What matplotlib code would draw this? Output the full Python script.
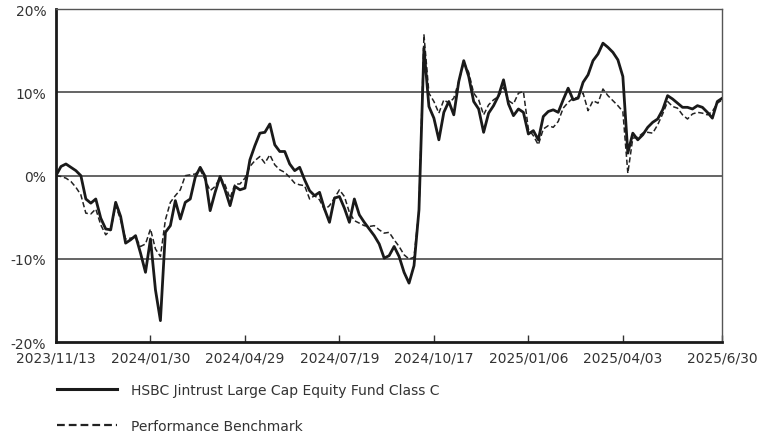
import matplotlib
matplotlib.use("Agg")
import matplotlib.pyplot as plt
import numpy as np

tick_labels = ["2023/11/13", "2024/01/30", "2024/04/29", "2024/07/19",
               "2024/10/17", "2025/01/06", "2025/04/03", "2025/6/30"]
tick_index = [0, 19, 38, 57, 76, 95, 114, 134]

fund = [
    0.0, 1.1, 1.4, 1.0, 0.6, 0.0, -2.8, -3.3, -2.8, -5.1,
    -6.4, -6.5, -3.2, -4.9, -8.1, -7.7, -7.2, -9.3, -11.6, -7.6,
    -13.7, -17.4, -6.8, -6.0, -3.0, -5.2, -3.2, -2.8, -0.2, 1.0,
    -0.1, -4.2, -2.0, -0.1, -1.7, -3.6, -1.3, -1.7, -1.5, 1.9,
    3.6, 5.1, 5.2, 6.2, 3.7, 2.9, 2.9, 1.4, 0.6, 1.0,
    -0.5, -1.8, -2.4, -2.0, -4.0, -5.6, -2.7, -2.5, -3.9, -5.6,
    -2.8, -4.7, -5.6, -6.4, -7.2, -8.2, -9.9, -9.6, -8.5, -9.7,
    -11.6, -12.9, -10.8, -4.1, 15.3, 8.3, 6.9, 4.3, 7.6, 8.9,
    7.3, 11.3, 13.8, 11.9, 8.9, 8.0, 5.2, 7.5, 8.4, 9.6,
    11.5, 8.6, 7.2, 8.0, 7.6, 5.0, 5.4, 4.3, 7.1, 7.7,
    7.9, 7.6, 9.1, 10.5, 9.1, 9.3, 11.2, 12.1, 13.8, 14.6,
    15.9, 15.4, 14.8, 13.9, 11.9, 2.7, 5.1, 4.3, 4.9, 5.8,
    6.4, 6.8, 7.9, 9.6, 9.2, 8.7, 8.2, 8.2, 8.0, 8.4,
    8.2, 7.6, 6.9, 8.9, 9.3,
]

benchmark = [
    0.0, -0.1, -0.3, -0.7, -1.4, -2.3, -4.5, -4.6, -4.0, -5.9,
    -7.1, -6.5, -3.6, -5.3, -7.6, -7.5, -7.4, -8.5, -8.2, -6.4,
    -8.8, -9.7, -5.3, -3.2, -2.4, -1.7, 0.0, 0.1, 0.2, 0.7,
    -0.5, -1.8, -1.3, -0.2, -1.1, -2.7, -1.0, -1.0, -0.3, 1.1,
    1.8, 2.3, 1.5, 2.5, 1.3, 0.7, 0.4, -0.2, -0.9, -1.1,
    -1.2, -2.8, -2.4, -2.9, -4.1, -3.6, -2.7, -1.7, -2.5, -4.4,
    -5.4, -5.7, -6.0, -6.1, -6.0, -6.5, -6.9, -6.8, -7.7, -8.5,
    -9.5, -10.0, -9.8, -4.1, 16.9, 9.9, 8.9, 7.5, 9.1, 8.7,
    9.3, 11.3, 13.6, 12.4, 9.9, 9.1, 7.3, 8.5, 9.1, 9.5,
    10.6, 9.0, 8.6, 9.9, 10.1, 5.6, 4.8, 3.7, 5.6, 6.0,
    5.8, 6.5, 8.1, 8.8, 9.3, 9.4, 9.9, 7.8, 9.0, 8.7,
    10.4, 9.6, 9.0, 8.4, 7.7, 0.3, 4.5, 4.6, 5.1, 5.2,
    5.1, 6.1, 7.4, 8.9, 8.3, 8.1, 7.3, 6.8, 7.4, 7.6,
    7.5, 7.3, 7.7, 8.7, 9.1,
]

series_names = ["HSBC Jintrust Large Cap Equity Fund Class C", "Performance Benchmark"]

plt.rcParams['font.family'] = ['Liberation Sans Narrow', 'DejaVu Sans']

fig = plt.figure(figsize=(7.59, 4.35), dpi=100)
ax = fig.add_axes([56 / 759, 1 - 343.3 / 435, (722.3 - 56) / 759, (343.3 - 10) / 435])

x = np.arange(len(fund))
ax.plot(x, benchmark, color="#222222", lw=1.1, linestyle=(0, (3.5, 1.8)),
        label=series_names[1], zorder=3)
ax.plot(x, fund, color="#1a1a1a", lw=2.0, label=series_names[0], zorder=4)

ax.set_xlim(0, len(fund) - 1)
ax.set_ylim(-20, 20)
ax.set_yticks([-20, -10, 0, 10, 20])
ax.set_yticklabels(["-20%", "-10%", "0%", "10%", "20%"])
ax.set_xticks(tick_index)
ax.set_xticklabels(tick_labels)

for yv in (-10, 0, 10):
    ax.axhline(yv, color="#3a3a3a", lw=1.1, zorder=1)

for s in ("top", "right"):
    ax.spines[s].set_color("#555555")
    ax.spines[s].set_linewidth(1.0)
for s in ("left", "bottom"):
    ax.spines[s].set_color("#1a1a1a")
    ax.spines[s].set_linewidth(2.0)

ax.tick_params(axis="y", length=0, pad=7, labelsize=10, labelcolor="#333333")
ax.tick_params(axis="x", direction="in", length=5, width=1, color="#333333",
               pad=6, labelsize=10, labelcolor="#333333")

handles, labels = ax.get_legend_handles_labels()
order = [1, 0]
leg = fig.legend([handles[i] for i in order], [labels[i] for i in order],
                 loc="upper left", bbox_to_anchor=(57 / 759, 1 - 384 / 435),
                 frameon=False, fontsize=10, handlelength=4.3, handletextpad=1.0,
                 labelspacing=1.6, borderpad=0, borderaxespad=0, labelcolor="#333333")
legl = leg.get_lines()
legl[0].set_linewidth(2.2)
legl[1].set_linewidth(1.6)

fig.savefig("out.png", dpi=100)
